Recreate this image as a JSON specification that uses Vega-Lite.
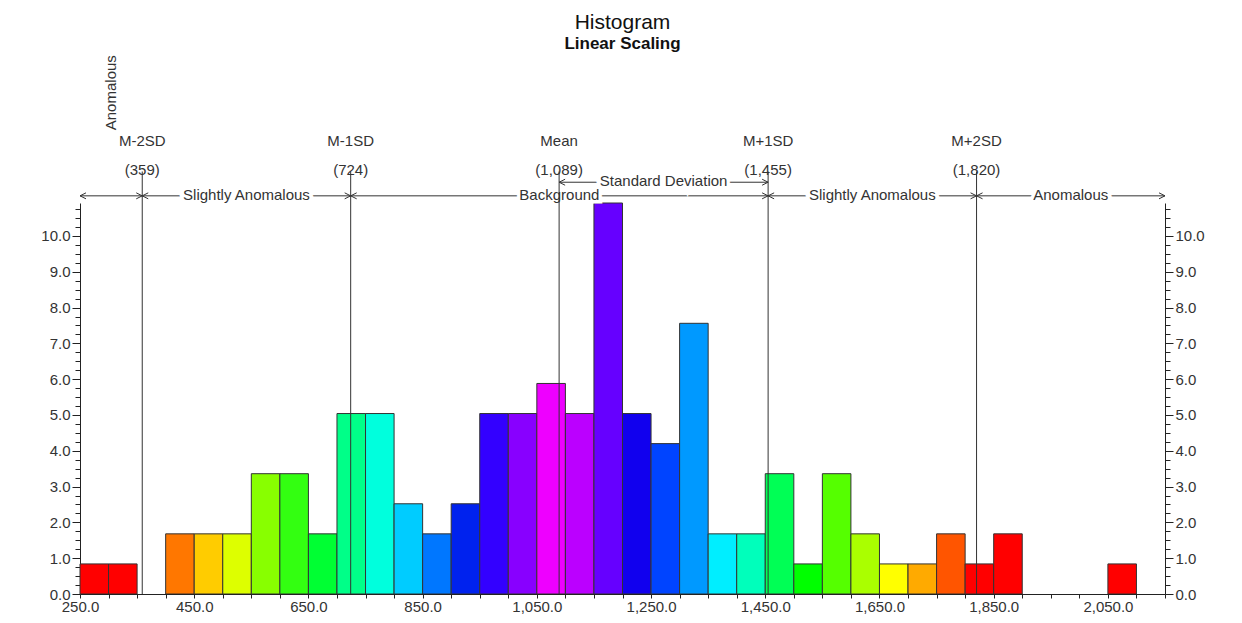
{
  "$schema": "https://vega.github.io/schema/vega-lite/v6.json",
  "autosize": "none",
  "width": 1085,
  "height": 391,
  "padding": {"left": 80, "top": 203, "right": 77, "bottom": 29},
  "background": "white",
  "config": {
    "view": {"stroke": null},
    "font": "Liberation Sans",
    "text": {"font": "Liberation Sans", "fontSize": 15, "fill": "#333"}
  },
  "title": {
    "text": "Histogram",
    "subtitle": "Linear Scaling",
    "font": "Liberation Sans",
    "fontSize": 21,
    "fontWeight": "normal",
    "color": "#111",
    "subtitleFont": "Liberation Sans",
    "subtitleFontSize": 17,
    "subtitleFontWeight": "bold",
    "subtitleColor": "#111",
    "subtitlePadding": 3,
    "anchor": "middle",
    "offset": 3
  },
  "datasets": {
    "bins": [
      {"bin_start": 250, "bin_end": 300, "percent": 0.84},
      {"bin_start": 300, "bin_end": 350, "percent": 0.84},
      {"bin_start": 400, "bin_end": 450, "percent": 1.68},
      {"bin_start": 450, "bin_end": 500, "percent": 1.68},
      {"bin_start": 500, "bin_end": 550, "percent": 1.68},
      {"bin_start": 550, "bin_end": 600, "percent": 3.36},
      {"bin_start": 600, "bin_end": 650, "percent": 3.36},
      {"bin_start": 650, "bin_end": 700, "percent": 1.68},
      {"bin_start": 700, "bin_end": 750, "percent": 5.04},
      {"bin_start": 750, "bin_end": 800, "percent": 5.04},
      {"bin_start": 800, "bin_end": 850, "percent": 2.52},
      {"bin_start": 850, "bin_end": 900, "percent": 1.68},
      {"bin_start": 900, "bin_end": 950, "percent": 2.52},
      {"bin_start": 950, "bin_end": 1000, "percent": 5.04},
      {"bin_start": 1000, "bin_end": 1050, "percent": 5.04},
      {"bin_start": 1050, "bin_end": 1100, "percent": 5.88},
      {"bin_start": 1100, "bin_end": 1150, "percent": 5.04},
      {"bin_start": 1150, "bin_end": 1200, "percent": 10.92},
      {"bin_start": 1200, "bin_end": 1250, "percent": 5.04},
      {"bin_start": 1250, "bin_end": 1300, "percent": 4.2},
      {"bin_start": 1300, "bin_end": 1350, "percent": 7.56},
      {"bin_start": 1350, "bin_end": 1400, "percent": 1.68},
      {"bin_start": 1400, "bin_end": 1450, "percent": 1.68},
      {"bin_start": 1450, "bin_end": 1500, "percent": 3.36},
      {"bin_start": 1500, "bin_end": 1550, "percent": 0.84},
      {"bin_start": 1550, "bin_end": 1600, "percent": 3.36},
      {"bin_start": 1600, "bin_end": 1650, "percent": 1.68},
      {"bin_start": 1650, "bin_end": 1700, "percent": 0.84},
      {"bin_start": 1700, "bin_end": 1750, "percent": 0.84},
      {"bin_start": 1750, "bin_end": 1800, "percent": 1.68},
      {"bin_start": 1800, "bin_end": 1850, "percent": 0.84},
      {"bin_start": 1850, "bin_end": 1900, "percent": 1.68},
      {"bin_start": 2050, "bin_end": 2100, "percent": 0.84}
    ],
    "refs": [
      {"name": "M-2SD", "value": 359, "shown": "(359)"},
      {"name": "M-1SD", "value": 724, "shown": "(724)"},
      {"name": "Mean", "value": 1089, "shown": "(1,089)"},
      {"name": "M+1SD", "value": 1455, "shown": "(1,455)"},
      {"name": "M+2SD", "value": 1820, "shown": "(1,820)"}
    ],
    "zones": [
      {"start": 250, "end": 359, "label": "Anomalous", "narrow": true},
      {"start": 359, "end": 724, "label": "Slightly Anomalous", "narrow": false},
      {"start": 724, "end": 1455, "label": "Background", "narrow": false},
      {"start": 1455, "end": 1820, "label": "Slightly Anomalous", "narrow": false},
      {"start": 1820, "end": 2150, "label": "Anomalous", "narrow": false}
    ],
    "sd": [
      {"start": 1089, "end": 1455, "label": "Standard Deviation"}
    ]
  },
  "resolve": {"axis": {"x": "independent", "y": "independent"}},
  "layer": [
    {
      "data": {"name": "bins"},
      "mark": {"type": "bar", "stroke": "#333", "strokeWidth": 1},
      "encoding": {
        "x": {
          "field": "bin_start", "type": "quantitative",
          "scale": {"domain": [250, 2150], "nice": false, "zero": false, "padding": 0},
          "axis": {
            "title": null, "grid": false, "orient": "bottom", "zindex": 1,
            "values": [250,300,350,400,450,500,550,600,650,700,750,800,850,900,950,1000,1050,1100,1150,1200,1250,1300,1350,1400,1450,1500,1550,1600,1650,1700,1750,1800,1850,1900,1950,2000,2050,2100,2150],
            "labelExpr": "(datum.value - 250) % 200 == 0 ? format(datum.value, ',.1f') : ''",
            "tickSize": 4, "labelPadding": 1,
            "labelFont": "Liberation Sans", "labelFontSize": 15, "labelColor": "#333",
            "domainColor": "#222", "tickColor": "#222",
            "labelFlush": false, "labelOverlap": false
          }
        },
        "x2": {"field": "bin_end"},
        "y": {
          "field": "percent", "type": "quantitative",
          "scale": {"domain": [0, 10.92], "nice": false, "padding": 0},
          "axis": {
            "title": null, "grid": false, "orient": "left",
            "values": [0,0.25,0.5,0.75,1,1.25,1.5,1.75,2,2.25,2.5,2.75,3,3.25,3.5,3.75,4,4.25,4.5,4.75,5,5.25,5.5,5.75,6,6.25,6.5,6.75,7,7.25,7.5,7.75,8,8.25,8.5,8.75,9,9.25,9.5,9.75,10,10.25,10.5,10.75],
            "labelExpr": "datum.value % 1 == 0 ? format(datum.value, '.1f') : ''",
            "tickSize": {"condition": {"test": "datum.value % 1 == 0", "value": 8}, "value": 5},
            "labelPadding": 2,
            "labelFont": "Liberation Sans", "labelFontSize": 15, "labelColor": "#333",
            "domainColor": "#222", "tickColor": "#222",
            "labelFlush": false, "labelOverlap": false
          }
        },
        "y2": {"datum": 0},
        "color": {
          "field": "bin_start", "type": "ordinal", "legend": null,
          "scale": {
            "domain": [250,300,400,450,500,550,600,650,700,750,800,850,900,950,1000,1050,1100,1150,1200,1250,1300,1350,1400,1450,1500,1550,1600,1650,1700,1750,1800,1850,2050],
            "range": ["#FF0000","#FF0000","#FF7700","#FFCC00","#DDFF00","#88FF00","#33FF11","#00FF33","#00FF88","#00FFDD","#00CCFF","#0077FF","#0022EE","#3300FF","#8800FF","#EE00FF","#BB00FF","#6600FF","#1100EE","#0044FF","#0099FF","#00EEFF","#00FFBB","#00FF55","#00FF00","#55FF00","#AAFF00","#FFFF00","#FFAA00","#FF5500","#FF0000","#FF0000","#FF0000"]
          }
        }
      }
    },
    {
      "data": {"name": "zones"},
      "mark": {"type": "rule", "stroke": "#333", "strokeWidth": 1},
      "encoding": {
        "x": {"field": "start", "type": "quantitative", "axis": null},
        "x2": {"field": "end"},
        "y": {"datum": 11.12, "type": "quantitative", "axis": null}
      }
    },
    {
      "data": {"name": "sd"},
      "mark": {"type": "rule", "stroke": "#333", "strokeWidth": 1},
      "encoding": {
        "x": {"field": "start", "type": "quantitative", "axis": null},
        "x2": {"field": "end"},
        "y": {"datum": 11.5, "type": "quantitative", "axis": null}
      }
    },
    {
      "data": {"name": "zones"},
      "transform": [{"filter": "!datum.narrow"}, {"calculate": "(datum.start + datum.end) / 2", "as": "mid"}],
      "mark": {"type": "text", "stroke": "white", "strokeWidth": 7, "fill": "white", "align": "center", "baseline": "alphabetic"},
      "encoding": {
        "x": {"field": "mid", "type": "quantitative", "axis": null},
        "y": {"datum": 11.0, "type": "quantitative", "axis": null},
        "text": {"field": "label"}
      }
    },
    {
      "data": {"name": "zones"},
      "transform": [{"filter": "!datum.narrow"}, {"calculate": "(datum.start + datum.end) / 2", "as": "mid"}],
      "mark": {"type": "text", "align": "center", "baseline": "alphabetic"},
      "encoding": {
        "x": {"field": "mid", "type": "quantitative", "axis": null},
        "y": {"datum": 11.0, "type": "quantitative", "axis": null},
        "text": {"field": "label"}
      }
    },
    {
      "data": {"name": "zones"},
      "transform": [{"filter": "datum.narrow"}, {"calculate": "(datum.start + datum.end) / 2", "as": "mid"}],
      "mark": {"type": "text", "align": "center", "baseline": "middle", "angle": 270},
      "encoding": {
        "x": {"field": "mid", "type": "quantitative", "axis": null},
        "y": {"datum": 14.0, "type": "quantitative", "axis": null},
        "text": {"field": "label"}
      }
    },
    {
      "data": {"name": "sd"},
      "transform": [{"calculate": "(datum.start + datum.end) / 2", "as": "mid"}],
      "mark": {"type": "text", "stroke": "white", "strokeWidth": 7, "fill": "white", "align": "center", "baseline": "alphabetic"},
      "encoding": {
        "x": {"field": "mid", "type": "quantitative", "axis": null},
        "y": {"datum": 11.39, "type": "quantitative", "axis": null},
        "text": {"field": "label"}
      }
    },
    {
      "data": {"name": "sd"},
      "transform": [{"calculate": "(datum.start + datum.end) / 2", "as": "mid"}],
      "mark": {"type": "text", "align": "center", "baseline": "alphabetic"},
      "encoding": {
        "x": {"field": "mid", "type": "quantitative", "axis": null},
        "y": {"datum": 11.39, "type": "quantitative", "axis": null},
        "text": {"field": "label"}
      }
    },
    {
      "data": {"name": "zones"},
      "mark": {"type": "point", "shape": "M1,-0.5L0,0L1,0.5", "size": 144, "filled": false, "stroke": "#333", "strokeWidth": 1, "opacity": 1},
      "encoding": {
        "x": {"field": "start", "type": "quantitative", "axis": null},
        "y": {"datum": 11.12, "type": "quantitative", "axis": null}
      }
    },
    {
      "data": {"name": "zones"},
      "mark": {"type": "point", "shape": "M-1,-0.5L0,0L-1,0.5", "size": 144, "filled": false, "stroke": "#333", "strokeWidth": 1, "opacity": 1},
      "encoding": {
        "x": {"field": "end", "type": "quantitative", "axis": null},
        "y": {"datum": 11.12, "type": "quantitative", "axis": null}
      }
    },
    {
      "data": {"name": "sd"},
      "mark": {"type": "point", "shape": "M1,-0.5L0,0L1,0.5", "size": 144, "filled": false, "stroke": "#333", "strokeWidth": 1, "opacity": 1},
      "encoding": {
        "x": {"field": "start", "type": "quantitative", "axis": null},
        "y": {"datum": 11.5, "type": "quantitative", "axis": null}
      }
    },
    {
      "data": {"name": "sd"},
      "mark": {"type": "point", "shape": "M-1,-0.5L0,0L-1,0.5", "size": 144, "filled": false, "stroke": "#333", "strokeWidth": 1, "opacity": 1},
      "encoding": {
        "x": {"field": "end", "type": "quantitative", "axis": null},
        "y": {"datum": 11.5, "type": "quantitative", "axis": null}
      }
    },
    {
      "data": {"name": "refs"},
      "mark": {"type": "rule", "stroke": "#333", "strokeWidth": 1},
      "encoding": {
        "x": {"field": "value", "type": "quantitative", "axis": null},
        "y": {
          "datum": 0, "type": "quantitative",
          "scale": {"domain": [0, 10.92], "nice": false, "padding": 0},
          "axis": {
            "title": null, "grid": false, "orient": "right",
            "values": [0,0.25,0.5,0.75,1,1.25,1.5,1.75,2,2.25,2.5,2.75,3,3.25,3.5,3.75,4,4.25,4.5,4.75,5,5.25,5.5,5.75,6,6.25,6.5,6.75,7,7.25,7.5,7.75,8,8.25,8.5,8.75,9,9.25,9.5,9.75,10,10.25,10.5,10.75],
            "labelExpr": "datum.value % 1 == 0 ? format(datum.value, '.1f') : ''",
            "tickSize": {"condition": {"test": "datum.value % 1 == 0", "value": 8}, "value": 5},
            "labelPadding": 2,
            "labelFont": "Liberation Sans", "labelFontSize": 15, "labelColor": "#333",
            "domainColor": "#222", "tickColor": "#222",
            "labelFlush": false, "labelOverlap": false
          }
        },
        "y2": {"datum": 11.8}
      }
    },
    {
      "data": {"name": "refs"},
      "mark": {"type": "text", "align": "center", "baseline": "alphabetic"},
      "encoding": {
        "x": {"field": "value", "type": "quantitative", "axis": null},
        "y": {"datum": 12.51, "type": "quantitative", "axis": null},
        "text": {"field": "name"}
      }
    },
    {
      "data": {"name": "refs"},
      "mark": {"type": "text", "align": "center", "baseline": "alphabetic"},
      "encoding": {
        "x": {"field": "value", "type": "quantitative", "axis": null},
        "y": {"datum": 11.7, "type": "quantitative", "axis": null},
        "text": {"field": "shown"}
      }
    }
  ]
}
